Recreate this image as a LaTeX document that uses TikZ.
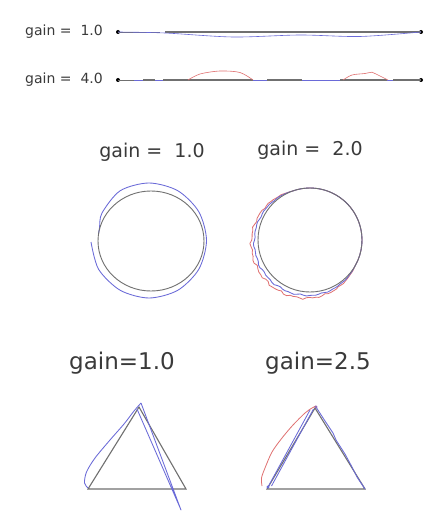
\documentclass[tikz,border=0pt]{standalone}
\usepackage{fontspec}
\setmainfont{DejaVu Sans}
\definecolor{bl}{HTML}{6A6AD8}
\definecolor{rd}{HTML}{E07070}
\definecolor{gy}{HTML}{707070}
\definecolor{tx}{HTML}{3A3A3A}
\begin{document}
\begin{tikzpicture}[x=1pt,y=-1pt,
  blueline/.style={bl,line width=0.85pt,line join=round},
  redline/.style={rd,line width=0.8pt,line join=round},
  refline/.style={gy,line width=1.1pt},
  lbl/.style={text=tx,inner sep=0pt},
  dotp/.style={circle,fill=black,inner sep=0pt,minimum size=4pt}]
\useasboundingbox[fill=white] (0,0) rectangle (435,513);

% ---------- straight lines ----------
\node[lbl,font=\fontsize{14}{16}\selectfont] (l1) at (64,32) {gain =\ \ 1.0};
\node[lbl,font=\fontsize{14}{16}\selectfont] (l2) at (64,80) {gain =\ \ 4.0};
\node[dotp] (a1) at (118,32) {};
\node[dotp] (b1) at (421,32) {};
\node[dotp] (a2) at (118,80) {};
\node[dotp] (b2) at (421,80) {};

\draw[refline,line width=0.8pt] (118,32) -- (160,32);
\draw[refline] (165,32) -- (421,32);
\draw[blueline,line width=0.6pt] plot[smooth] coordinates {(118,32) (165,33) (233,37) (300,35) (360,36.5) (421,32)};

\draw[blueline,line width=0.6pt] (118,80.5) -- (421,80.5);
\draw[refline,line width=0.6pt] (118,80) -- (134,80);
\draw[refline] (143,80) -- (155,80);
\draw[refline] (163,80) -- (253,80);
\draw[refline] (267,80) -- (302,80);
\draw[refline] (340,80) -- (387,80);
\draw[refline] (393,80) -- (421,80);
\draw[redline,line width=0.6pt] plot[smooth] coordinates {(188,80) (200,74) (220,71) (240,72.5) (253,80)};
\draw[redline,line width=0.6pt] plot[smooth] coordinates {(343,80) (352,75) (365,73.5) (372,72.2) (376,74) (388,80)};

% ---------- circles ----------
\node[lbl,font=\fontsize{19}{22}\selectfont] (c1) at (152,152) {gain =\ \ 1.0};
\node[lbl,font=\fontsize{19}{22}\selectfont] (c2) at (310,150) {gain =\ \ 2.0};

\draw[blueline] plot[smooth] coordinates {(91,242) (98.6,269.3) (120.25,290.3) (149,298) (177.75,290.3) (198.8,269.25) (206.5,240.5) (198.8,211.75) (177.75,190.7) (149,183) (120.25,190.7) (102,213) (99.5,228) (98.5,234)};
\draw[refline,line width=0.9pt] (151,241) ellipse [x radius=53, y radius=50];

\draw[redline] plot[domain=30:250,samples=70] ({310+(52+(8+0.9*sin(mod(23*\x,360))+0.7*sin(mod(41*\x+70,360)))*sin((\x-30)*0.81818))*cos(\x)},{240+(52+(8+0.9*sin(mod(23*\x,360))+0.7*sin(mod(41*\x+70,360)))*sin((\x-30)*0.81818))*sin(\x)});
\draw[redline] (310,240) ++(250:52) arc[start angle=250,end angle=390,radius=52];
\draw[blueline] plot[domain=30:250,samples=70] ({310+(52+(4.5+0.6*sin(mod(31*\x+40,360))+0.5*sin(mod(17*\x+10,360)))*sin((\x-30)*0.81818))*cos(\x)},{240+(52+(4.5+0.6*sin(mod(31*\x+40,360))+0.5*sin(mod(17*\x+10,360)))*sin((\x-30)*0.81818))*sin(\x)});
\draw[blueline] (310,240) ++(250:52) arc[start angle=250,end angle=390,radius=52];
\draw[refline,line width=0.9pt] (310,240) circle [radius=52];

% ---------- triangles ----------
\node[lbl,font=\fontsize{23}{26}\selectfont] (t1) at (122,363) {gain=1.0};
\node[lbl,font=\fontsize{23}{26}\selectfont] (t2) at (318,363) {gain=2.5};

\draw[refline] (88,489) -- (186,489) -- (139,407) -- cycle;
\draw[blueline] plot[smooth] coordinates {(88,488) (84.5,483) (86.5,472) (95,458) (110,440) (124,424) (134,411) (141,403)};
\draw[blueline] (141,403) -- (181,510) -- (178,503) -- (137,409);

\draw[refline] (267,489) -- (365,489) -- (315,408) -- cycle;
\draw[redline] plot[smooth] coordinates {(262,486) (261.5,478) (265,468) (272,452) (282,438) (293,425) (305,413) (312,408) (316,406)};
\draw[blueline] (268,487) -- (310,410);
\draw[blueline] (271.5,486) -- (313.5,409);
\draw[blueline] plot coordinates {(316,407) (325,421) (333,433) (336,440) (345,454) (352,467) (357,477) (365,489)};
\fill[bl] (268,487) circle [radius=1.6];
\fill[bl!70!rd] (316,407) circle [radius=1.6];
\end{tikzpicture}
\end{document}
